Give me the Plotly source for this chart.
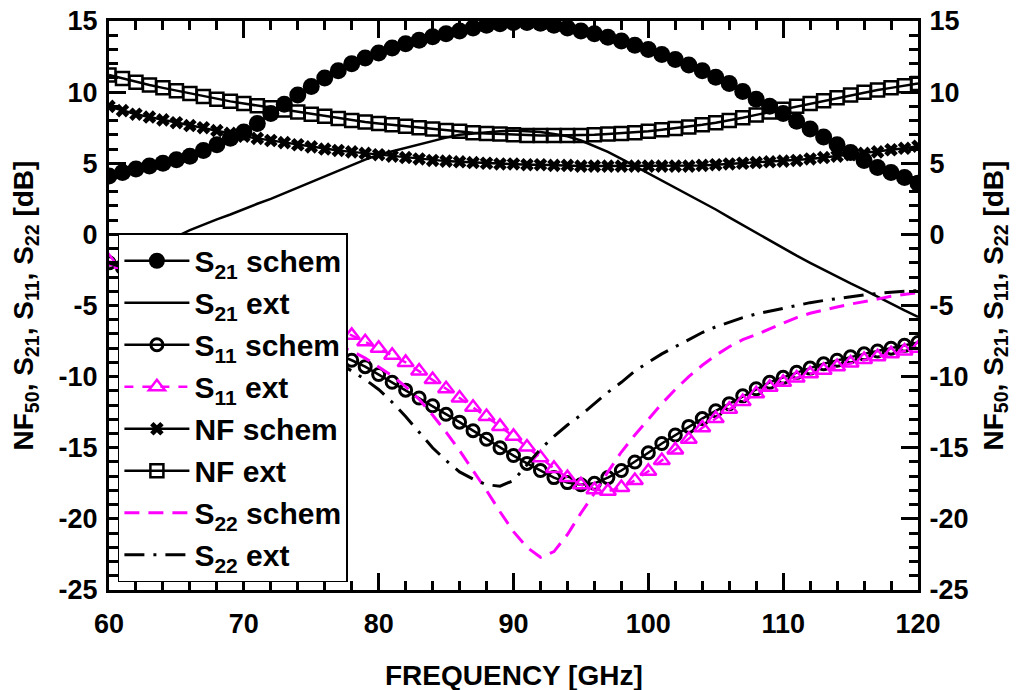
import plotly.graph_objects as go

freq = list(range(60, 121))

s21_schem = [4.1, 4.35, 4.6, 4.8, 5.0, 5.25, 5.5, 5.9, 6.3, 6.75,
             7.2, 7.8, 8.5, 9.15, 9.8, 10.4, 11.0, 11.5, 12.0, 12.4,
             12.75, 13.1, 13.4, 13.65, 13.9, 14.1, 14.3, 14.5, 14.7, 14.8,
             14.9, 14.9, 14.85, 14.7, 14.5, 14.3, 14.1, 13.85, 13.6, 13.3,
             13.0, 12.65, 12.3, 11.9, 11.5, 11.05, 10.6, 10.05, 9.5, 9.0,
             8.5, 7.95, 7.4, 6.85, 6.3, 5.75, 5.2, 4.7, 4.35, 4.0, 3.6]

s21_ext = [-2.2, -1.8, -1.4, -1.0, -0.6, -0.15, 0.3, 0.7, 1.05, 1.4,
           1.8, 2.15, 2.5, 2.9, 3.3, 3.7, 4.1, 4.5, 4.9, 5.25,
           5.6, 5.85, 6.1, 6.35, 6.6, 6.8, 7.0, 7.1, 7.2, 7.25,
           7.3, 7.25, 7.2, 7.05, 6.9, 6.6, 6.2, 5.8, 5.3, 4.8,
           4.3, 3.8, 3.3, 2.8, 2.3, 1.75, 1.2, 0.65, 0.1, -0.45,
           -1.0, -1.5, -2.0, -2.5, -3.0, -3.45, -3.9, -4.4, -4.9, -5.35, -5.8]

s11_schem = [-2.0, -2.35, -2.7, -3.05, -3.4, -3.8, -4.2, -4.6, -5.0, -5.4,
             -5.8, -6.2, -6.6, -7.0, -7.4, -7.75, -8.1, -8.45, -8.85, -9.3,
             -9.85, -10.4, -10.95, -11.5, -12.05, -12.65, -13.2, -13.8, -14.4, -15.0,
             -15.55, -16.1, -16.6, -17.1, -17.45, -17.6, -17.5, -17.1, -16.6, -16.0,
             -15.35, -14.7, -14.1, -13.5, -12.95, -12.4, -11.9, -11.35, -10.85, -10.4,
             -10.05, -9.7, -9.4, -9.1, -8.85, -8.6, -8.4, -8.2, -8.0, -7.8, -7.6]

s11_ext = [-1.9, -2.1, -2.3, -2.55, -2.8, -3.05, -3.3, -3.55, -3.8, -4.1,
           -4.4, -4.7, -5.0, -5.35, -5.7, -6.05, -6.4, -6.75, -7.1, -7.55,
           -8.0, -8.5, -9.0, -9.6, -10.2, -10.85, -11.5, -12.15, -12.8, -13.5,
           -14.2, -14.95, -15.7, -16.45, -17.1, -17.6, -17.95, -18.05, -17.8, -17.3,
           -16.65, -15.9, -15.15, -14.4, -13.6, -12.95, -12.3, -11.75, -11.2, -10.75,
           -10.4, -10.1, -9.8, -9.55, -9.3, -9.05, -8.8, -8.6, -8.4, -8.2, -8.0]

nf_schem = [9.0, 8.7, 8.45, 8.25, 8.05, 7.85, 7.65, 7.5, 7.3, 7.1,
            6.9, 6.75, 6.6, 6.45, 6.3, 6.15, 6.0, 5.9, 5.8, 5.7,
            5.6, 5.5, 5.4, 5.3, 5.2, 5.15, 5.1, 5.05, 5.0, 4.95,
            4.95, 4.9, 4.9, 4.85, 4.85, 4.8, 4.8, 4.8, 4.8, 4.8,
            4.8, 4.8, 4.8, 4.8, 4.85, 4.9, 4.95, 5.0, 5.05, 5.1,
            5.15, 5.2, 5.3, 5.4, 5.5, 5.6, 5.7, 5.8, 5.95, 6.05, 6.2]

nf_ext = [11.2, 10.95, 10.7, 10.5, 10.3, 10.1, 9.9, 9.7, 9.5, 9.35,
          9.2, 9.05, 8.9, 8.75, 8.6, 8.45, 8.3, 8.15, 8.0, 7.9,
          7.8, 7.7, 7.6, 7.5, 7.4, 7.3, 7.25, 7.15, 7.1, 7.05,
          7.0, 6.95, 6.95, 6.95, 6.95, 6.95, 7.0, 7.05, 7.1, 7.15,
          7.25, 7.35, 7.45, 7.55, 7.7, 7.85, 8.0, 8.2, 8.4, 8.6,
          8.8, 9.0, 9.2, 9.4, 9.6, 9.8, 10.0, 10.15, 10.3, 10.45, 10.6]

s22_schem = [-2.0, -2.3, -2.6, -2.95, -3.3, -3.65, -4.0, -4.4, -4.8, -5.2,
             -5.6, -5.9, -6.2, -6.5, -6.8, -7.15, -7.5, -7.85, -8.2, -8.7,
             -9.3, -9.95, -10.7, -11.6, -12.7, -13.9, -15.2, -16.6, -18.0, -19.5,
             -20.9, -22.0, -22.7, -22.3, -21.1, -19.6, -18.2, -16.7, -15.3, -14.1,
             -13.0, -11.9, -10.9, -10.0, -9.2, -8.5, -7.9, -7.4, -7.05, -6.65,
             -6.3, -5.85, -5.55, -5.3, -5.1, -4.9, -4.75, -4.55, -4.35, -4.25, -4.1]

s22_ext = [-2.0, -2.3, -2.6, -2.95, -3.3, -3.65, -4.0, -4.35, -4.75, -5.15,
           -5.5, -5.9, -6.3, -6.8, -7.3, -7.85, -8.4, -9.0, -9.6, -10.2,
           -10.9, -11.8, -12.8, -13.9, -15.0, -15.9, -16.7, -17.2, -17.6, -17.7,
           -17.3, -16.2, -15.1, -14.2, -13.4, -12.7, -11.9, -11.1, -10.4, -9.6,
           -9.0, -8.4, -7.9, -7.4, -6.9, -6.5, -6.15, -5.85, -5.6, -5.4,
           -5.15, -4.95, -4.8, -4.65, -4.5, -4.35, -4.25, -4.15, -4.05, -4.0, -3.95]

x_ticks = [60, 70, 80, 90, 100, 110, 120]
x_ticktext = ["60", "70", "80", "90", "100", "110", "120"]
y_ticks = [15, 10, 5, 0, -5, -10, -15, -20, -25]
y_ticktext = ["15", "10", "5", "0", "-5", "-10", "-15", "-20", "-25"]

x_title = "FREQUENCY [GHz]"
y_title = "NF<sub>50</sub>, S<sub>21</sub>, S<sub>11</sub>, S<sub>22</sub> [dB]"

BLACK = "#000000"
MAGENTA = "#ff00ff"
FONT = "Liberation Sans"

fig = go.Figure()

fig.add_trace(go.Scatter(
    x=freq, y=s21_schem, mode="lines+markers", name="S<sub>21</sub> schem",
    line=dict(color=BLACK, width=2.5),
    marker=dict(symbol="circle", size=17, color=BLACK)))
fig.add_trace(go.Scatter(
    x=freq, y=s21_ext, mode="lines", name="S<sub>21</sub> ext",
    line=dict(color=BLACK, width=2.5)))
fig.add_trace(go.Scatter(
    x=freq, y=s11_schem, mode="lines+markers", name="S<sub>11</sub> schem",
    line=dict(color=BLACK, width=2.5),
    marker=dict(symbol="circle-open", size=12, color=BLACK, line=dict(width=3))))
fig.add_trace(go.Scatter(
    x=freq, y=s11_ext, mode="lines+markers", name="S<sub>11</sub> ext",
    line=dict(color=MAGENTA, width=2.5, dash="dash"),
    marker=dict(symbol="triangle-up-open", size=14, color=MAGENTA, line=dict(width=2.5))))
fig.add_trace(go.Scatter(
    x=freq, y=nf_schem, mode="lines+markers", name="NF schem",
    line=dict(color=BLACK, width=2.5),
    marker=dict(symbol="x", size=12, color=BLACK, line=dict(width=0))))
fig.add_trace(go.Scatter(
    x=freq, y=nf_ext, mode="lines+markers", name="NF ext",
    line=dict(color=BLACK, width=2.5),
    marker=dict(symbol="square-open", size=13, color=BLACK, line=dict(width=2.5))))
fig.add_trace(go.Scatter(
    x=freq, y=s22_schem, mode="lines", name="S<sub>22</sub> schem",
    line=dict(color=MAGENTA, width=3, dash="15px,9px")))
fig.add_trace(go.Scatter(
    x=freq, y=s22_ext, mode="lines", name="S<sub>22</sub> ext",
    line=dict(color=BLACK, width=3, dash="20px,9px,3px,9px")))
# carrier for the right-hand axis
fig.add_trace(go.Scatter(x=[None], y=[None], yaxis="y2", showlegend=False,
                         hoverinfo="skip", mode="lines"))

tickfont = dict(family=FONT, size=27, color=BLACK, weight="bold")
titlefont = dict(family=FONT, size=28, color=BLACK, weight="bold")

common_y = dict(
    range=[-25, 15], tickmode="array", tickvals=y_ticks, ticktext=y_ticktext,
    ticks="inside", ticklen=17, tickwidth=2.5,
    tickcolor=BLACK, showline=True, linecolor=BLACK, linewidth=3, showgrid=False,
    zeroline=False, tickfont=tickfont, ticklabelstandoff=3, automargin=False,
    ticklabeloverflow="allow",
    minor=dict(tickmode="linear", tick0=-25, dtick=1, ticks="inside", ticklen=9,
               tickwidth=2.5, tickcolor=BLACK, showgrid=False),
)

fig.update_layout(
    width=1014, height=682,
    margin=dict(l=101, r=104, t=13, b=100, autoexpand=False),
    paper_bgcolor="white", plot_bgcolor="white",
    font=dict(family=FONT, color=BLACK),
    xaxis=dict(
        range=[60, 120], tickmode="array", tickvals=x_ticks, ticktext=x_ticktext,
        ticks="inside", ticklen=17, tickwidth=2.5,
        tickcolor=BLACK, showline=True, linecolor=BLACK, linewidth=3, mirror="ticks",
        showgrid=False, zeroline=False, tickfont=tickfont, ticklabelstandoff=8,
        automargin=False, ticklabeloverflow="allow",
        minor=dict(tickmode="linear", tick0=60, dtick=2, ticks="inside", ticklen=9,
                   tickwidth=2.5, tickcolor=BLACK, showgrid=False),
    ),
    yaxis=dict(**common_y, side="left"),
    yaxis2=dict(**common_y, side="right", overlaying="y"),
    legend=dict(
        x=0.011, y=0.627, xanchor="left", yanchor="top",
        bgcolor="white", bordercolor=BLACK, borderwidth=1.5,
        font=dict(family=FONT, size=30, color=BLACK, weight="bold"),
        itemwidth=65, tracegroupgap=0,
    ),
    showlegend=True,
    annotations=[
        dict(text=x_title, xref="paper", yref="paper", x=0.5, y=-0.1494,
             xanchor="center", yanchor="middle", showarrow=False, font=titlefont),
        dict(text=y_title, xref="paper", yref="paper", x=-0.1026, y=0.5,
             xanchor="center", yanchor="middle", textangle=-90, showarrow=False,
             font=titlefont),
        dict(text=y_title, xref="paper", yref="paper", x=1.0952, y=0.5,
             xanchor="center", yanchor="middle", textangle=-90, showarrow=False,
             font=titlefont),
    ],
)

fig.write_html("out.html")
